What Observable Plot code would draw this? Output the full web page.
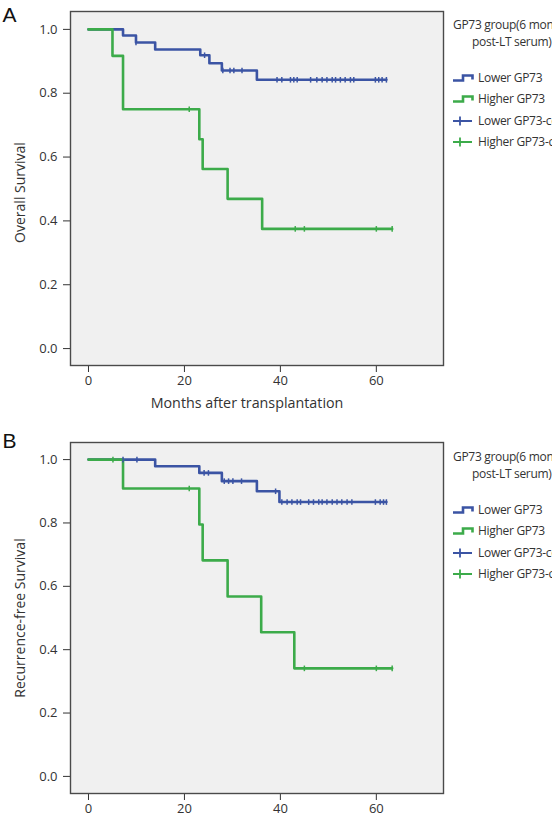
<!DOCTYPE html>
<html><head><meta charset="utf-8">
<script src="https://cdn.jsdelivr.net/npm/d3@7"></script>
<script src="https://cdn.jsdelivr.net/npm/@observablehq/plot@0.6"></script>
<style>
html,body{margin:0;padding:0;background:#fff;overflow:hidden;width:552px;height:829px}
.panel{position:relative;width:552px;overflow:hidden}
.panel svg{display:block}
.leg{position:absolute;font-family:"Open Sans",sans-serif;font-size:12px;letter-spacing:-0.3px;color:#333;white-space:nowrap;line-height:14px}
.icon{position:absolute}
</style></head><body>
<div id="A" class="panel" style="height:420px"></div>
<div id="B" class="panel" style="height:409px"></div>
<script>
// ---- data ----
const xTicks = [0, 20, 40, 60];
const yTicks = [0, 0.2, 0.4, 0.6, 0.8, 1.0];
const legendTitle = ["GP73 group(6 months", "post-LT serum)"];
const legendLabels = ["Lower GP73", "Higher GP73", "Lower GP73-censored", "Higher GP73-censored"];
const panelLetters = ["A", "B"];
const yLabels = ["Overall Survival", "Recurrence-free Survival"];
const xLabel = "Months after transplantation";

// Panel A: overall survival
const osLowerTime = [0, 7.2, 9.9, 13.9, 23.3, 25.2, 27.8, 35.1, 62.1];
const osLowerSurv = [1.0, 0.981, 0.959, 0.937, 0.919, 0.894, 0.871, 0.842, 0.842];
const osLowerCensor = [9.9, 24.2, 28.0, 29.5, 30.3, 32.0, 39.3, 40.3, 42.1, 42.8, 43.5, 46.3, 47.6, 48.7, 49.7, 50.8, 51.5, 52.5, 53.5, 54.6, 55.3, 59.8, 60.5, 61.2, 62.1];
const osHigherTime = [0, 5.0, 7.2, 23.1, 23.8, 29.0, 36.2, 63.3];
const osHigherSurv = [1.0, 0.917, 0.75, 0.656, 0.5625, 0.469, 0.375, 0.375];
const osHigherCensor = [21.0, 43.1, 45.0, 60.0, 63.3];

// Panel B: recurrence-free survival
const rfsLowerTime = [0, 13.9, 23.1, 27.8, 35.1, 39.8, 62.1];
const rfsLowerSurv = [1.0, 0.979, 0.958, 0.932, 0.90, 0.866, 0.866];
const rfsLowerCensor = [7.2, 10.1, 24.1, 25.0, 28.3, 29.2, 30.1, 31.9, 39.0, 40.3, 41.4, 42.4, 43.5, 44.2, 45.9, 46.9, 48.0, 48.7, 49.7, 50.8, 51.8, 52.8, 53.9, 54.9, 59.8, 60.8, 61.5, 62.1];
const rfsHigherTime = [0, 7.2, 23.1, 23.8, 29.0, 36.0, 42.9, 63.3];
const rfsHigherSurv = [1.0, 0.909, 0.795, 0.682, 0.568, 0.455, 0.341, 0.341];
const rfsHigherCensor = [5.1, 21.0, 45.0, 60.0, 63.3];

// ---- styles ----
const BLUE = "#3b54a4";
const GREEN = "#3cab4a";
const FONT = "'Open Sans', sans-serif";

function stepRows(times, surv) { return times.map((t, i) => ({t, s: surv[i]})); }
function censorRows(times, stepT, stepS) {
  return times.map(t => {
    let s = stepS[0];
    for (let i = 0; i < stepT.length; i++) if (stepT[i] <= t) s = stepS[i];
    return {t, s};
  });
}
const vtick = {draw(ctx, size) { const h = Math.sqrt(size / Math.PI); ctx.moveTo(0, -h); ctx.lineTo(0, h); }};

function panel(cfg) {
  const marks = [
    Plot.frame({fill: "#f0f0f0"}),
    Plot.line(stepRows(cfg.lowT, cfg.lowS), {x: "t", y: "s", curve: "step-after", stroke: BLUE, strokeWidth: 2.6}),
    Plot.line(stepRows(cfg.highT, cfg.highS), {x: "t", y: "s", curve: "step-after", stroke: GREEN, strokeWidth: 2.6}),
    Plot.dot(censorRows(cfg.lowC, cfg.lowT, cfg.lowS), {x: "t", y: "s", symbol: vtick, r: 2.8, stroke: BLUE, strokeWidth: 1.5, fill: "none"}),
    Plot.dot(censorRows(cfg.highC, cfg.highT, cfg.highS), {x: "t", y: "s", symbol: vtick, r: 2.8, stroke: GREEN, strokeWidth: 1.5, fill: "none"}),
    Plot.frame({stroke: "#4a4a4a", strokeWidth: 1.4}),
    Plot.text([cfg.ylabel], {frameAnchor: "left", rotate: -90, textAnchor: "middle", dx: -50, dy: cfg.ylabelDy, fontSize: 14, fill: "#333"}),
    Plot.text([cfg.letter], {frameAnchor: "top-left", textAnchor: "start", lineAnchor: "middle", dx: -68, dy: cfg.letterDy, fontSize: 21, fontFamily: "Arial, 'Liberation Sans', sans-serif", fill: "#111"})
  ];
  if (cfg.xlabel) marks.push(Plot.text([cfg.xlabel], {frameAnchor: "bottom", textAnchor: "middle", dx: -10, dy: 42, fontSize: 14.3, fill: "#333"}));
  return Plot.plot({
    width: 552, height: cfg.height,
    marginLeft: 70, marginRight: 109, marginTop: cfg.mt, marginBottom: cfg.mb,
    style: {fontFamily: FONT, fontSize: "13px", color: "#333", background: "transparent", overflow: "visible"},
    x: {domain: [-3.75, 74], ticks: xTicks, tickSize: 7, tickPadding: 3, label: null, tickFormat: d3.format("d")},
    y: {domain: cfg.ydom, ticks: yTicks, tickSize: 7, tickPadding: 6, label: null, tickFormat: d3.format(".1f")},
    marks
  });
}

function legend(el, off) {
  const add = (html) => { const d = document.createElement("div"); d.innerHTML = html; el.appendChild(d.firstChild); };
  add(`<div class="leg" style="left:453px;top:${off + 25 - 7}px">${legendTitle[0]}</div>`);
  add(`<div class="leg" style="left:472px;top:${off + 42 - 7}px">${legendTitle[1]}</div>`);
  const ys = [78, 99, 121, 142];
  const cols = [BLUE, GREEN, BLUE, GREEN];
  legendLabels.forEach((lab, i) => {
    const y = off + ys[i];
    let icon;
    if (i < 2) icon = `<svg class="icon" style="left:453px;top:${y - 8}px" width="22" height="14"><path d="M0,10.5H10V5.5H19.5V9.5" fill="none" stroke="${cols[i]}" stroke-width="2.6"/></svg>`;
    else icon = `<svg class="icon" style="left:452px;top:${y - 7}px" width="22" height="14"><path d="M1,7H20M8,2.5V11.5" fill="none" stroke="${cols[i]}" stroke-width="1.8"/></svg>`;
    add(icon);
    add(`<div class="leg" style="left:478px;top:${y - 7}px">${lab}</div>`);
  });
}

const elA = document.getElementById("A");
elA.appendChild(panel({height: 420, mt: 11, mb: 55, ydom: [-0.053, 1.056], lowT: osLowerTime, lowS: osLowerSurv, lowC: osLowerCensor, highT: osHigherTime, highS: osHigherSurv, highC: osHigherCensor, ylabel: yLabels[0], ylabelDy: 4, letter: panelLetters[0], letterDy: 4, xlabel: xLabel}));
legend(elA, 0);

const elB = document.getElementById("B");
elB.appendChild(panel({height: 409, mt: 22, mb: 36, ydom: [-0.054, 1.054], lowT: rfsLowerTime, lowS: rfsLowerSurv, lowC: rfsLowerCensor, highT: rfsHigherTime, highS: rfsHigherSurv, highC: rfsHigherCensor, ylabel: yLabels[1], ylabelDy: 0, letter: panelLetters[1], letterDy: -1, xlabel: null}));
legend(elB, 12);
</script>
</body></html>
